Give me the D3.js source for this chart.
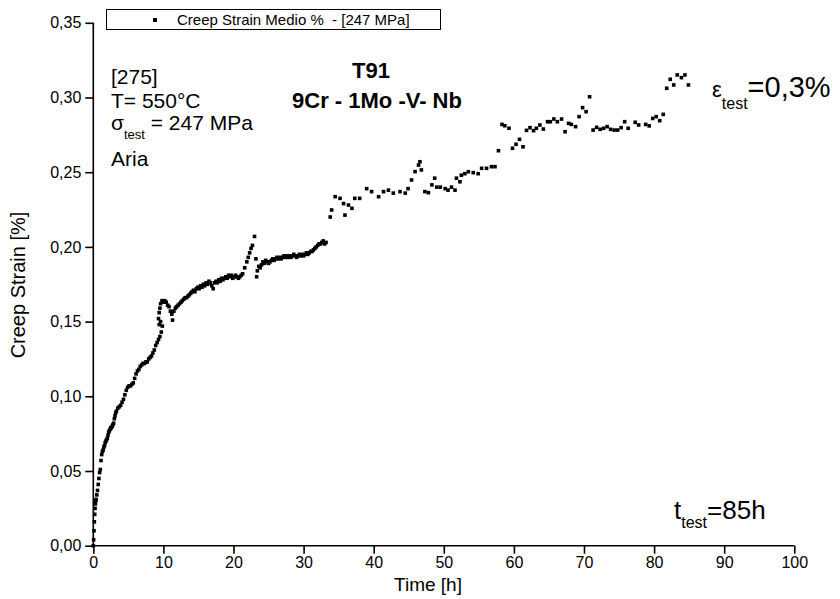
<!DOCTYPE html>
<html>
<head>
<meta charset="utf-8">
<script src="https://cdn.jsdelivr.net/npm/d3@7"></script>
<style>
body { margin: 0; background: #fff; }
svg { font-family: "Liberation Sans", Arial, sans-serif; }
text { white-space: pre; }
</style>
</head>
<body>
<svg id="chart" width="840" height="599"></svg>
<script>
// data (time in h, creep strain in %)
var timeH = [
    0, 0.05, 0.1, 0.15, 0.2, 0.25, 0.3, 0.35, 0.4, 0.5, 0.6, 0.7, 0.8, 0.9, 1.0, 1.1, 1.2, 1.3, 1.4, 1.5,
    1.6, 1.7, 1.8, 1.9, 2.0, 2.1, 2.2, 2.3, 2.4, 2.5, 2.6, 2.7, 2.8, 2.9, 3.0, 3.1, 3.2,
    3.3, 3.5, 3.7, 3.9, 4.1, 4.3, 4.5, 4.7, 4.9, 5.1, 5.3, 5.5, 5.7, 5.9, 6.1, 6.3, 6.5, 6.7, 6.9, 7.1,
    7.3, 7.5, 7.7, 7.9, 8.1, 8.3, 8.5, 8.7, 8.9, 9.1, 9.3, 9.5, 9.7, 9.85, 9.6, 9.4, 9.3, 9.4, 9.5, 9.6,
    9.8, 10.0, 10.2, 10.4, 10.6, 10.8, 11.0, 11.2, 11.3, 11.5, 11.7, 11.9,
    12.1, 12.3, 12.5, 12.7, 12.9, 13.1, 13.3, 13.5, 13.7, 13.9, 14.1, 14.3, 14.5, 14.7, 14.9, 15.1, 15.3,
    15.5, 15.7, 15.9, 16.1, 16.3, 16.5, 16.7, 16.9, 17.1, 17.3, 17.5, 17.7, 17.9, 18.1, 18.3, 18.5, 18.7,
    18.9, 19.1, 19.3, 19.5, 19.7, 19.9, 20.1, 20.3, 20.5, 20.7, 20.9, 21.1, 21.3,
    21.6, 21.9, 22.1, 22.3, 22.5, 22.7, 23.0, 23.2, 23.3, 23.4, 23.6, 23.8, 24.0, 24.2, 24.4, 24.6, 24.8,
    25.0, 25.2, 25.4, 25.6, 25.8, 26.0, 26.2, 26.4, 26.6, 26.8, 27.0, 27.2, 27.4, 27.6, 27.8, 28.0, 28.2,
    28.4, 28.6, 28.8, 29.0, 29.2, 29.4, 29.6, 29.8, 30.0, 30.2, 30.4, 30.6, 30.8, 31.0, 31.2, 31.4, 31.6,
    31.8, 32.0, 32.2, 32.4, 32.6, 32.8, 33.0, 33.2,
    33.8, 34.0, 34.5, 35.2, 35.7, 35.9, 36.4, 36.9, 37.3, 38.0, 39.0, 39.7, 40.7, 41.4, 42.1, 42.8, 43.75,
    44.5, 44.9, 45.4, 45.9, 46.4, 46.6, 46.8, 47.3, 47.8, 48.3, 48.7, 49.0, 49.5, 50.2, 50.6, 51.1, 51.6,
    51.8, 52.3, 52.5, 53.0, 53.5, 54.2, 54.9, 55.4, 56.1, 56.8, 57.3, 57.8, 58.3, 58.7, 59.3, 59.8, 60.3,
    60.8, 61.3, 61.8, 62.3, 62.8, 63.2, 63.7, 64.2, 64.8, 65.2, 65.7, 66.2, 66.8, 67.3, 67.8, 68.2, 68.8,
    69.3, 69.8, 70.3, 70.8, 71.3, 71.8, 72.3, 72.8, 73.3, 73.8, 74.3, 74.8, 75.3, 75.8, 76.3, 77.3, 77.8,
    78.8, 79.3, 79.8, 80.3, 80.8, 81.3, 81.8, 82.3, 82.8, 83.3, 83.9, 84.4, 84.9
];
var strainPct = [
    0, 0.004, 0.010, 0.016, 0.021, 0.025, 0.028, 0.030, 0.031, 0.034, 0.037, 0.041, 0.045, 0.049, 0.051, 0.057, 0.061, 0.063, 0.064, 0.066,
    0.067, 0.069, 0.070, 0.071, 0.072, 0.074, 0.076, 0.077, 0.078, 0.079, 0.079, 0.080, 0.081, 0.082, 0.085, 0.087, 0.089,
    0.090, 0.092, 0.093, 0.094, 0.096, 0.098, 0.101, 0.104, 0.106, 0.107, 0.107, 0.108, 0.109, 0.112, 0.115, 0.117, 0.118, 0.120, 0.121, 0.122,
    0.122, 0.123, 0.123, 0.125, 0.126, 0.127, 0.129, 0.131, 0.134, 0.136, 0.138, 0.140, 0.143, 0.147, 0.150, 0.148, 0.152, 0.156, 0.159, 0.162,
    0.164, 0.163, 0.164, 0.163, 0.161, 0.160, 0.157, 0.155, 0.151, 0.157, 0.159, 0.160,
    0.161, 0.162, 0.163, 0.164, 0.165, 0.166, 0.166, 0.167, 0.168, 0.169, 0.170, 0.171, 0.170, 0.172, 0.173, 0.172, 0.174,
    0.173, 0.175, 0.174, 0.176, 0.175, 0.177, 0.176, 0.174, 0.172, 0.176, 0.177, 0.176, 0.178, 0.177, 0.179, 0.178, 0.179,
    0.180, 0.179, 0.181, 0.180, 0.181, 0.179, 0.180, 0.181, 0.180, 0.179, 0.180, 0.181, 0.182,
    0.186, 0.190, 0.193, 0.196, 0.199, 0.201, 0.207, 0.192, 0.180, 0.184, 0.187, 0.186, 0.188, 0.190, 0.189, 0.191, 0.190,
    0.189, 0.190, 0.191, 0.192, 0.191, 0.192, 0.193, 0.192, 0.193, 0.192, 0.193, 0.194, 0.193, 0.194, 0.193, 0.194, 0.193,
    0.194, 0.195, 0.194, 0.193, 0.194, 0.195, 0.194, 0.195, 0.194, 0.195, 0.196, 0.195, 0.196, 0.197, 0.197, 0.198, 0.199,
    0.200, 0.201, 0.202, 0.202, 0.203, 0.204, 0.202, 0.203,
    0.220, 0.2247, 0.2336, 0.2325, 0.229, 0.2213, 0.228, 0.2258, 0.2325, 0.2325, 0.239, 0.237, 0.2336, 0.237, 0.238, 0.236, 0.237,
    0.236, 0.239, 0.2448, 0.2504, 0.2548, 0.257, 0.2515, 0.237, 0.2363, 0.2415, 0.246, 0.240, 0.240, 0.239, 0.238, 0.240, 0.238,
    0.246, 0.2436, 0.248, 0.249, 0.2503, 0.2497, 0.249, 0.2526, 0.2526, 0.2537, 0.2537, 0.2644, 0.282, 0.2811, 0.2794, 0.266, 0.2687,
    0.272, 0.267, 0.278, 0.2798, 0.2778, 0.2794, 0.2816, 0.2789, 0.2838, 0.2838, 0.2856, 0.2838, 0.2856, 0.2771, 0.2827, 0.282, 0.2805,
    0.2872, 0.2932, 0.2905, 0.3005, 0.2782, 0.280, 0.2787, 0.2794, 0.2805, 0.2787, 0.2782, 0.2782, 0.2798, 0.2838, 0.2794, 0.2834, 0.2816,
    0.282, 0.281, 0.286, 0.2872, 0.2845, 0.2887, 0.3062, 0.3122, 0.3084, 0.3151, 0.3133, 0.3151, 0.3084
];
var xTicks = [0, 10, 20, 30, 40, 50, 60, 70, 80, 90, 100];
var yTicks = [0, 0.05, 0.10, 0.15, 0.20, 0.25, 0.30, 0.35];
var legendLabel = "Creep Strain Medio %  - [247 MPa]";
var infoLines = ["[275]", "T= 550°C"];

var svg = d3.select("#chart");

var x = d3.scaleLinear().domain([0, 100]).range([93.3, 794.3]);
var y = d3.scaleLinear().domain([0, 0.35]).range([545.7, 22.8]);

var comma = function(d) { return d3.format(".2f")(d).replace(".", ","); };

// x axis
var xAxis = svg.append("g")
    .attr("transform", "translate(0," + y(0) + ")");
xAxis.call(d3.axisBottom(x).tickValues(d3.range(5, 100, 10)).tickSize(5).tickFormat(""));
xAxis.call(d3.axisBottom(x).tickValues(xTicks).tickSize(8).tickFormat(d3.format("d")));
xAxis.selectAll(".domain").remove();
xAxis.append("line")
    .attr("x1", x(0)).attr("x2", x(100))
    .attr("stroke", "#000").attr("stroke-width", 1.6);
xAxis.selectAll("line").attr("stroke-width", 1.6);
xAxis.selectAll("text")
    .attr("y", 11)
    .attr("font-size", 16)
    .attr("font-family", "Liberation Sans, Arial, sans-serif")
    .attr("fill", "#000");

// y axis
var yAxis = svg.append("g")
    .attr("transform", "translate(" + x(0) + ",0)");
yAxis.call(d3.axisLeft(y).tickValues(d3.range(0.025, 0.35, 0.05)).tickSize(5).tickFormat(""));
yAxis.call(d3.axisLeft(y).tickValues(yTicks).tickSize(8).tickFormat(comma));
yAxis.selectAll(".domain").remove();
yAxis.append("line")
    .attr("y1", y(0)).attr("y2", y(0.35))
    .attr("stroke", "#000").attr("stroke-width", 1.6);
yAxis.selectAll("line").attr("stroke-width", 1.6);
yAxis.selectAll("text")
    .attr("x", -12)
    .attr("font-size", 16)
    .attr("font-family", "Liberation Sans, Arial, sans-serif")
    .attr("fill", "#000");

// axis titles
svg.append("text")
    .attr("x", 428).attr("y", 591)
    .attr("text-anchor", "middle")
    .attr("font-size", 19)
    .text("Time [h]");
svg.append("text")
    .attr("transform", "translate(25,285) rotate(-90)")
    .attr("text-anchor", "middle")
    .attr("font-size", 20)
    .text("Creep Strain [%]");

// points
var points = timeH.map(function(t, i) { return { t: t, s: strainPct[i] }; });
var size = 3.6;
svg.append("g").selectAll("rect")
    .data(points)
    .enter()
    .append("rect")
    .attr("x", function(d) { return x(d.t) - size / 2; })
    .attr("y", function(d) { return y(d.s) - size / 2; })
    .attr("width", size)
    .attr("height", size)
    .attr("fill", "#000");

// legend
var legend = svg.append("g");
legend.append("rect")
    .attr("x", 106.5).attr("y", 9.5)
    .attr("width", 334).attr("height", 20)
    .attr("fill", "none").attr("stroke", "#000").attr("stroke-width", 1);
legend.append("rect")
    .attr("x", 153).attr("y", 18)
    .attr("width", 4).attr("height", 4)
    .attr("fill", "#000");
legend.append("text")
    .attr("x", 177).attr("y", 25)
    .attr("font-size", 15)
    .text(legendLabel);

// test info
svg.selectAll("text.info")
    .data(infoLines)
    .enter()
    .append("text")
    .attr("class", "info")
    .attr("x", 111)
    .attr("y", function(d, i) { return 84 + i * 24; })
    .attr("font-size", 21)
    .text(function(d) { return d; });

var sigma = svg.append("text").attr("x", 111).attr("y", 130).attr("font-size", 21);
sigma.append("tspan").text("σ");
sigma.append("tspan").attr("font-size", 13).attr("dy", 9).text("test");
sigma.append("tspan").attr("dy", -9).text(" = 247 MPa");

svg.append("text")
    .attr("x", 111).attr("y", 166)
    .attr("font-size", 21)
    .text("Aria");

// material
svg.append("text")
    .attr("x", 371).attr("y", 78)
    .attr("text-anchor", "middle")
    .attr("font-size", 22).attr("font-weight", "bold")
    .text("T91");
svg.append("text")
    .attr("x", 377).attr("y", 108)
    .attr("text-anchor", "middle")
    .attr("font-size", 22).attr("font-weight", "bold")
    .text("9Cr - 1Mo -V- Nb");

// test targets
var eps = svg.append("text").attr("x", 712).attr("y", 97).attr("font-size", 29);
eps.append("tspan").attr("font-size", 22).text("ε");
eps.append("tspan").attr("font-size", 16).attr("dy", 12).text("test");
eps.append("tspan").attr("dy", -12).text("=0,3%");

var tt = svg.append("text").attr("x", 674).attr("y", 519).attr("font-size", 26);
tt.append("tspan").text("t");
tt.append("tspan").attr("font-size", 16).attr("dy", 9).text("test");
tt.append("tspan").attr("dy", -9).text("=85h");
</script>
</body>
</html>
